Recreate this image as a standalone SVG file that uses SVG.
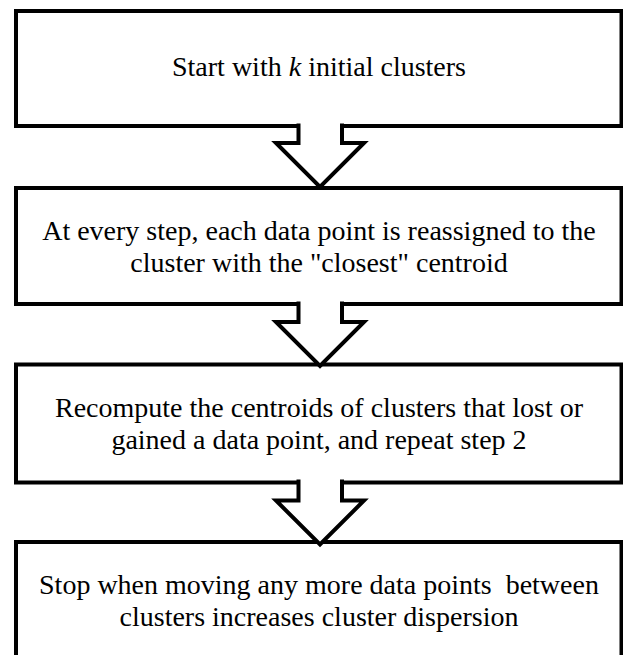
<svg xmlns="http://www.w3.org/2000/svg" width="623" height="655" viewBox="0 0 623 655">
<style>
.box{fill:#fff;stroke:#000;stroke-width:4;stroke-linejoin:miter}
.arr{fill:#fff;stroke:#000;stroke-width:4;stroke-linejoin:miter;stroke-miterlimit:10}
.t{font-family:'Liberation Serif','Times New Roman',Tinos,Times,'DejaVu Serif',serif;font-size:28px;fill:#000;text-anchor:middle}
</style>
<rect width="623" height="655" fill="#fff"/>
<g id="node1">
<rect class="box" x="16" y="11" width="605.5" height="115"/>
<text class="t" x="319" y="76">Start with <tspan font-style="italic">k</tspan> initial clusters</text>
</g>
<g id="node2">
<rect class="box" x="16" y="188" width="605.5" height="116"/>
<text class="t" x="319" y="240">At every step, each data point is reassigned to the</text>
<text class="t" x="319" y="272">cluster with the "closest" centroid</text>
</g>
<g id="node3">
<rect class="box" x="16" y="364.5" width="605.5" height="118"/>
<text class="t" x="319" y="417">Recompute the centroids of clusters that lost or</text>
<text class="t" x="319" y="449">gained a data point, and repeat step 2</text>
</g>
<g id="node4">
<rect class="box" x="16" y="542" width="605.5" height="160"/>
<text class="t" x="319" y="594" xml:space="preserve">Stop when moving any more data points  between</text>
<text class="t" x="319" y="626">clusters increases cluster dispersion</text>
</g>
<g id="connectors">
<path class="arr" d="M298.5,123.5 L298.5,143 L276,143 L320,187 L364,143 L342,143 L342,123.5"/>
<path class="arr" d="M298.5,301.5 L298.5,322 L276,322 L320,366 L364,322 L342,322 L342,301.5"/>
<path class="arr" d="M298.5,479.5 L298.5,500.5 L276,500.5 L320,544.5 L364,500.5 L342,500.5 L342,479.5"/>
</g>
</svg>
